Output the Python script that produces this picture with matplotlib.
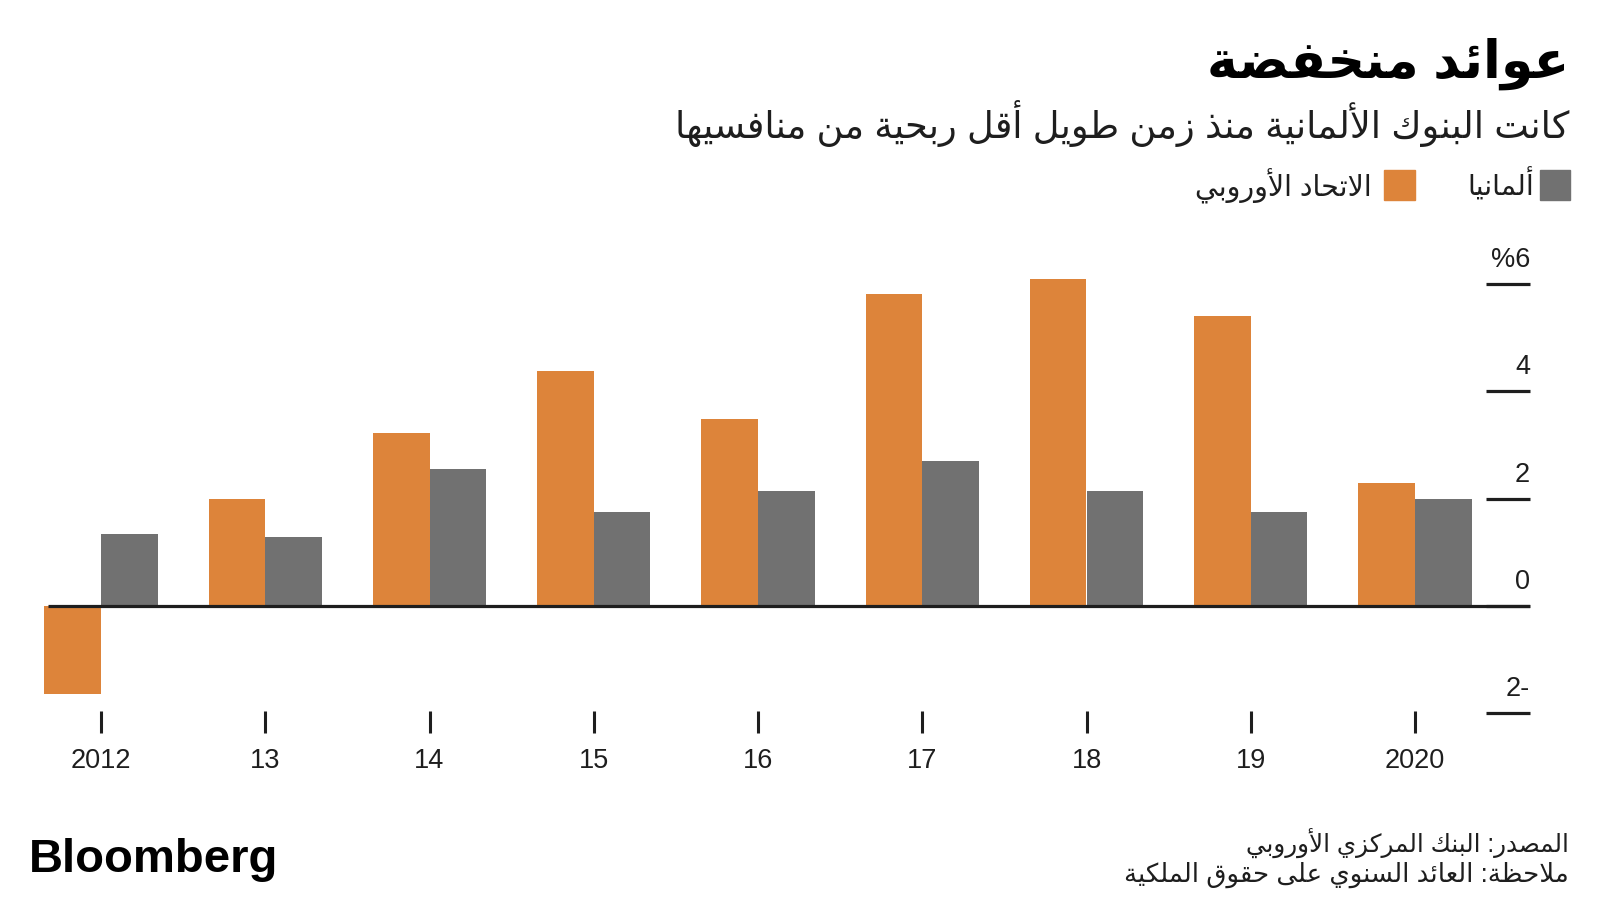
import numpy as np
import matplotlib
matplotlib.use("Agg")
import matplotlib.pyplot as plt

plt.rcParams['font.family'] = ['Liberation Sans', 'DejaVu Sans']

# données (rendement annuel des fonds propres, %)
annees = ["2012", "13", "14", "15", "16", "17", "18", "19", "2020"]
ue = [-1.64, 2.0, 3.22, 4.38, 3.49, 5.81, 6.10, 5.41, 2.30]
allemagne = [1.35, 1.28, 2.55, 1.75, 2.15, 2.70, 2.15, 1.75, 2.0]
y_ticks = [6, 4, 2, 0, -2]
y_labels = ["%6", "4", "2", "0", "2-"]

titre = "عوائد منخفضة"
sous_titre = "كانت البنوك الألمانية منذ زمن طويل أقل ربحية من منافسيها"
nom_de = "ألمانيا"
nom_ue = "الاتحاد الأوروبي"
source = "المصدر: البنك المركزي الأوروبي"
note = "ملاحظة: العائد السنوي على حقوق الملكية"

orange = "#dd843a"
gris = "#717171"
noir = "#1e1e1e"

# formes de présentation arabes (matplotlib ne fait pas le shaping)
LETTRES = {
    'ء': (0xFE80, 1), 'آ': (0xFE81, 2), 'أ': (0xFE83, 2), 'ؤ': (0xFE85, 2),
    'إ': (0xFE87, 2), 'ئ': (0xFE89, 4), 'ا': (0xFE8D, 2), 'ب': (0xFE8F, 4),
    'ة': (0xFE93, 2), 'ت': (0xFE95, 4), 'ث': (0xFE99, 4), 'ج': (0xFE9D, 4),
    'ح': (0xFEA1, 4), 'خ': (0xFEA5, 4), 'د': (0xFEA9, 2), 'ذ': (0xFEAB, 2),
    'ر': (0xFEAD, 2), 'ز': (0xFEAF, 2), 'س': (0xFEB1, 4), 'ش': (0xFEB5, 4),
    'ص': (0xFEB9, 4), 'ض': (0xFEBD, 4), 'ط': (0xFEC1, 4), 'ظ': (0xFEC5, 4),
    'ع': (0xFEC9, 4), 'غ': (0xFECD, 4), 'ف': (0xFED1, 4), 'ق': (0xFED5, 4),
    'ك': (0xFED9, 4), 'ل': (0xFEDD, 4), 'م': (0xFEE1, 4), 'ن': (0xFEE5, 4),
    'ه': (0xFEE9, 4), 'و': (0xFEED, 2), 'ى': (0xFEEF, 2), 'ي': (0xFEF1, 4),
}
LAM_ALEF = {'آ': 0xFEF5, 'أ': 0xFEF7, 'إ': 0xFEF9, 'ا': 0xFEFB}


def ar(texte):
    toks = []
    i = 0
    while i < len(texte):
        c = texte[i]
        if c == 'ل' and i + 1 < len(texte) and texte[i + 1] in LAM_ALEF:
            toks.append((LAM_ALEF[texte[i + 1]], 2))
            i += 2
            continue
        toks.append(LETTRES.get(c, (c, 0)))
        i += 1
    out = []
    for k, (base, n) in enumerate(toks):
        if n == 0:
            out.append(base)
            continue
        if n == 1:
            out.append(chr(base))
            continue
        prev = k > 0 and toks[k - 1][1] == 4
        nxt = n == 4 and k + 1 < len(toks) and toks[k + 1][1] >= 2
        off = 3 if (prev and nxt) else 1 if prev else 2 if nxt else 0
        out.append(chr(base + off))
    return ''.join(out[::-1])


fig = plt.figure(figsize=(16, 9), dpi=100)
ax = fig.add_axes([40 / 1600, 1 - 711 / 900, 1490 / 1600, 471 / 900])
x = np.arange(len(annees))
w = 0.345
ax.bar(x - w / 2, ue, w, color=orange, zorder=2)
ax.bar(x + w / 2, allemagne, w, color=gris, zorder=2)
ax.set_xlim((40 - 101) / 164.25, (1530 - 101) / 164.25)
ax.set_ylim(-1.955, 6.82)

ax.hlines(0, -0.32, 8.70, color=noir, lw=2.3, zorder=3)
for v, lab in zip(y_ticks, y_labels):
    ax.hlines(v, 8.43, 8.70, color=noir, lw=2.3, clip_on=False)
    ax.text(8.70, v + 0.32, lab, ha='right', va='baseline', fontsize=19.5,
            color=noir, clip_on=False)

for s in ax.spines.values():
    s.set_visible(False)
ax.set_yticks([])
ax.set_xticks(x)
ax.set_xticklabels(annees, fontsize=19.5, color=noir)
ax.tick_params(axis='x', length=15.5, width=2.2, color=noir, pad=11)

# textes
r = fig.canvas.get_renderer()


def fit(t, largeur):
    l = t.get_window_extent(r).width
    t.set_fontsize(t.get_fontsize() * largeur / l)


t = fig.text(1569 / 1600, 1 - 78 / 900, ar(titre), ha='right', va='baseline',
             fontsize=40, fontweight='bold', color='black')
fit(t, 362)
t = fig.text(1569 / 1600, 1 - 138 / 900, ar(sous_titre), ha='right', va='baseline',
             fontsize=24, color=noir)
fit(t, 900)

fig.patches.append(plt.Rectangle((1540 / 1600, 1 - 200 / 900), 30 / 1600, 30 / 900,
                                 transform=fig.transFigure, color=gris))
fig.patches.append(plt.Rectangle((1384 / 1600, 1 - 200 / 900), 31 / 1600, 30 / 900,
                                 transform=fig.transFigure, color=orange))
t = fig.text(1534 / 1600, 1 - 196 / 900, ar(nom_de), ha='right', va='baseline',
             fontsize=20, color=noir)
fit(t, 67)
t = fig.text(1372 / 1600, 1 - 196 / 900, ar(nom_ue), ha='right', va='baseline',
             fontsize=20, color=noir)
fit(t, 177)

t = fig.text(29 / 1600, 1 - 872 / 900, "Bloomberg", ha='left', va='baseline',
             fontsize=30, fontweight='bold', color='black')
fit(t, 249)
t = fig.text(1569 / 1600, 1 - 852 / 900, ar(source), ha='right', va='baseline',
             fontsize=18, color=noir)
fit(t, 324)
t = fig.text(1569 / 1600, 1 - 882 / 900, ar(note), ha='right', va='baseline',
             fontsize=18, color=noir)
fit(t, 444)

fig.savefig("out.png", dpi=100)
